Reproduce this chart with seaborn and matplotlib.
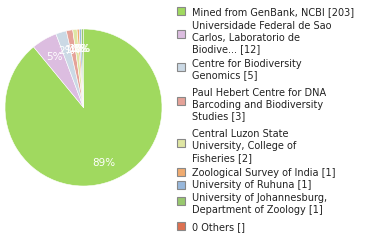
import matplotlib
matplotlib.use("Agg")
import matplotlib.pyplot as plt
import seaborn as sns
from matplotlib.patches import Rectangle

sns.set_theme(style="white")
plt.rcParams['font.family'] = ['DejaVu Sans']

labels = [
    "Mined from GenBank, NCBI [203]",
    "Universidade Federal de Sao\nCarlos, Laboratorio de\nBiodive... [12]",
    "Centre for Biodiversity\nGenomics [5]",
    "Paul Hebert Centre for DNA\nBarcoding and Biodiversity\nStudies [3]",
    "Central Luzon State\nUniversity, College of\nFisheries [2]",
    "Zoological Survey of India [1]",
    "University of Ruhuna [1]",
    "University of Johannesburg,\nDepartment of Zoology [1]",
    "0 Others []",
]
values = [203, 12, 5, 3, 2, 1, 1, 1]
colors = ["#a0d95f", "#dcbde0", "#cbd9e5", "#e5a298", "#dfe6a3",
          "#f0ab70", "#98b8dc", "#98c86e", "#dd7050"]

W, H = 380, 240
fig = plt.figure(figsize=(3.8, 2.4), dpi=100)
cx, cy, r = 83.5, 107.5, 78.5
ax = fig.add_axes([(cx - r) / W, (H - cy - r) / H, 2 * r / W, 2 * r / H])
ax.pie(values, colors=colors[:len(values)], startangle=90, counterclock=False,
       autopct='%.0f%%', pctdistance=0.75,
       wedgeprops=dict(linewidth=0.4, edgecolor="white"),
       textprops=dict(color="white", fontsize=7.5))
ax.set_xlim(-1, 1)
ax.set_ylim(-1, 1)
ax.axis("off")

# legend (each line placed individually for even spacing)
text_y = [11, 36.5, 68.5, 103.5, 145, 172, 184.5, 203, 226]
square_y = [11, 34, 67, 101, 143, 172, 185, 201, 226]
line_h = 11.6
for lab, col, ty, sy in zip(labels, colors, text_y, square_y):
    fig.patches.append(Rectangle((177 / W, (H - sy - 4) / H), 8 / W, 8 / H,
                                 transform=fig.transFigure, facecolor=col,
                                 edgecolor="#888888", linewidth=0.8))
    lines = lab.split("\n")
    n = len(lines)
    for i, ln in enumerate(lines):
        y = ty + (i - (n - 1) / 2) * line_h
        fig.text(192 / W, (H - y) / H, ln, fontsize=7, color="#222222",
                 va="center_baseline", ha="left")

fig.savefig("out.png", dpi=100)
